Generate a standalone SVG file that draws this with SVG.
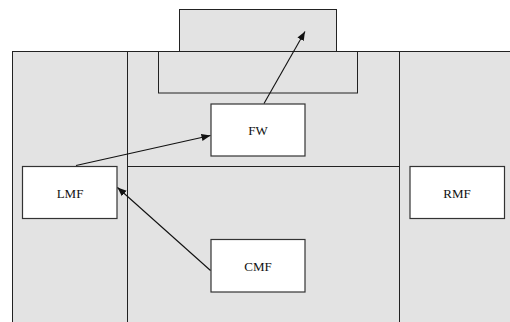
<svg xmlns="http://www.w3.org/2000/svg" width="510" height="322" viewBox="0 0 510 322">
<style>
.area{fill:#e3e3e3;stroke:#222;stroke-width:1}
.box{fill:#fff;stroke:#333;stroke-width:1.2}
.ln{stroke:#222;stroke-width:1;fill:none}
.lbl{font-family:"Liberation Serif","Noto Serif CJK SC",serif;font-size:13px;fill:#111;text-anchor:middle}
.con{stroke:#111;stroke-width:1.1;fill:none;marker-end:url(#ah)}
</style>
<defs>
<marker id="ah" viewBox="0 0 10 10" refX="10" refY="5" markerWidth="9" markerHeight="9" markerUnits="userSpaceOnUse" orient="auto">
<path d="M0,1 L10,5 L0,9 z" fill="#111"/>
</marker>
</defs>
<rect width="510" height="322" fill="#fff"/>
<g id="field">
<rect class="area" x="179.5" y="9.5" width="157" height="42"/>
<rect class="area" x="12.5" y="51.5" width="520" height="290"/>
<line class="ln" x1="127.5" y1="51" x2="127.5" y2="322"/>
<line class="ln" x1="399.5" y1="51" x2="399.5" y2="322"/>
<line class="ln" x1="127.5" y1="166.5" x2="399.5" y2="166.5"/>
<rect class="area" x="158.5" y="51.5" width="199" height="41.5"/>
</g>
<g id="FW"><rect class="box" x="211" y="104" width="94" height="52"/><text class="lbl" x="258" y="135">FW</text></g>
<g id="LMF"><rect class="box" x="22.5" y="166.5" width="94.5" height="52"/><text class="lbl" x="70" y="197.5">LMF</text></g>
<g id="RMF"><rect class="box" x="410" y="166.5" width="94.5" height="52"/><text class="lbl" x="457" y="197.5">RMF</text></g>
<g id="CMF"><rect class="box" x="211" y="239.5" width="94" height="52.5"/><text class="lbl" x="258" y="270.5">CMF</text></g>
<g id="connectors">
<line class="con" x1="264" y1="103.5" x2="305" y2="31.5"/>
<line class="con" x1="76" y1="165.5" x2="210.5" y2="135.5"/>
<line class="con" x1="210.5" y1="270.5" x2="117.5" y2="187.5"/>
</g>
</svg>
